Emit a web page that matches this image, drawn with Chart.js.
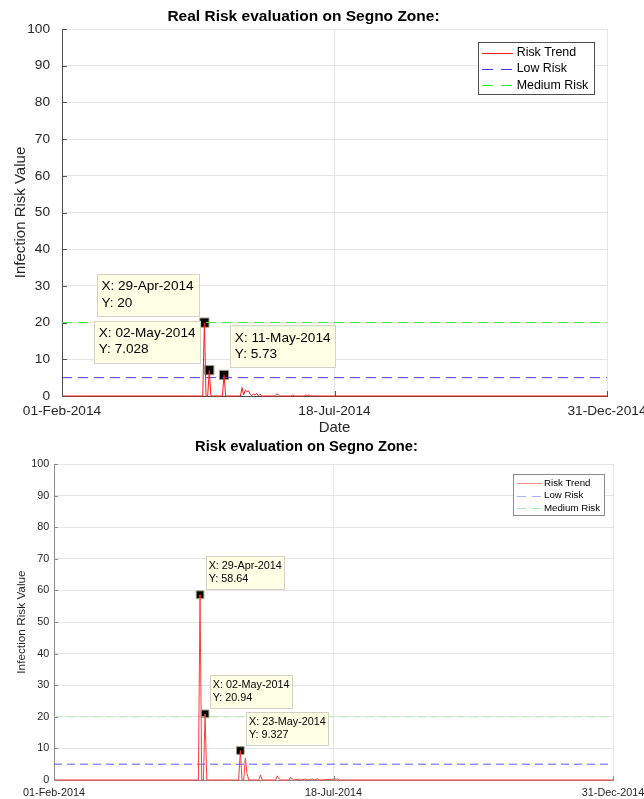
<!DOCTYPE html>
<html><head><meta charset="utf-8">
<script src="https://cdn.jsdelivr.net/npm/chart.js@4/dist/chart.umd.min.js"></script>
<style>
html,body{margin:0;padding:0;background:#fff;}
#wrap{position:relative;width:644px;height:799px;overflow:hidden;background:#fff;}
#c1{position:absolute;left:0;top:0;}
#c2{position:absolute;left:0;top:432px;}
</style></head><body>
<div id="wrap"><canvas id="c1" width="644" height="440"></canvas><canvas id="c2" width="644" height="367"></canvas></div>
<script>
// ---------- DATA ----------
const axisStart = '2014-02-01';
const axisEnd = '2014-12-31';
const xTickLabels = ['01-Feb-2014', '18-Jul-2014', '31-Dec-2014'];
const seriesNames = ['Risk Trend', 'Low Risk', 'Medium Risk'];
const lowRisk = 5;
const mediumRisk = 20;

// Top chart: "Real Risk evaluation on Segno Zone:"
const realTitle = 'Real Risk evaluation on Segno Zone:';
const realDates = ['2014-02-01','2014-04-28','2014-04-29','2014-04-30','2014-05-01','2014-05-02','2014-05-03',
  '2014-05-10','2014-05-11','2014-05-12','2014-05-21','2014-05-22','2014-05-23','2014-05-24','2014-05-25',
  '2014-05-26','2014-05-27','2014-05-28','2014-05-29','2014-05-30','2014-05-31','2014-06-01','2014-06-02',
  '2014-06-03','2014-06-11','2014-06-12','2014-06-13','2014-06-14','2014-06-21','2014-06-22','2014-06-23',
  '2014-06-29','2014-06-30','2014-07-01','2014-07-02','2014-07-03','2014-12-31'];
const realValues = [0,0,20,0,0,7.028,0,
  0,5.73,0,0,2.3,0.3,1.6,1.2,
  1.4,0.4,0.1,0.6,0.2,0.7,0,0.5,
  0,0,0.5,0.4,0,0,0.3,0,
  0,0.3,0.1,0.3,0,0];
const realTipDates = ['2014-04-29','2014-05-02','2014-05-11'];
const realTipValues = [20, 7.028, 5.73];

// Bottom chart: "Risk evaluation on Segno Zone:"
const estTitle = 'Risk evaluation on Segno Zone:';
const estDates = ['2014-02-01','2014-04-28','2014-04-29','2014-04-30','2014-05-01','2014-05-02','2014-05-03',
  '2014-05-22','2014-05-23','2014-05-24','2014-05-25','2014-05-26','2014-05-27','2014-05-28','2014-06-03',
  '2014-06-04','2014-06-05','2014-06-13','2014-06-14','2014-06-15','2014-06-16','2014-06-21','2014-06-22',
  '2014-06-23','2014-06-24','2014-06-27','2014-06-28','2014-07-01','2014-07-02','2014-07-05','2014-07-06',
  '2014-07-08','2014-07-09','2014-07-20','2014-07-21','2014-12-31'];
const estValues = [0,0,58.64,0,0,20.94,0,
  0,9.327,0,0,7.0,2.0,0,0,
  1.6,0,0,1.3,0.4,0,0,0.9,
  0.3,0,0.3,0,0.3,0,0.3,0,
  0.4,0,0.3,0,0];
const estTipDates = ['2014-04-29','2014-05-02','2014-05-23'];
const estTipValues = [58.64, 20.94, 9.327];

// ---------- HELPERS ----------
const FONT = '"Liberation Sans", Arial, Helvetica, sans-serif';
const MON = ['Jan','Feb','Mar','Apr','May','Jun','Jul','Aug','Sep','Oct','Nov','Dec'];
const T0 = (() => { const [y,m,d] = axisStart.split('-').map(Number); return Date.UTC(y,m-1,d); })();
function dayIndex(iso){ const [y,m,d] = iso.split('-').map(Number); return (Date.UTC(y,m-1,d) - T0) / 86400000; }
function fmtDate(iso){ const [y,m,d] = iso.split('-'); return d + '-' + MON[+m-1] + '-' + y; }

function makeDecor(S, D) {
  return {
    id: 'decor',
    afterDraw(chart) {
      const ctx = chart.ctx, xs = chart.scales.x, ys = chart.scales.y, a = chart.chartArea;
      ctx.save();
      // inward tick marks (MATLAB style)
      ctx.strokeStyle = S.tickColor; ctx.lineWidth = 1;
      ys.ticks.forEach(t => {
        const py = Math.round(ys.getPixelForValue(t.value)) + 0.5;
        ctx.beginPath(); ctx.moveTo(a.left, py); ctx.lineTo(a.left + S.tickLen, py); ctx.stroke();
      });
      xs.ticks.forEach(t => {
        const px = Math.round(xs.getPixelForValue(t.value)) + 0.5;
        ctx.beginPath(); ctx.moveTo(px, a.bottom); ctx.lineTo(px, a.bottom - S.tickLen); ctx.stroke();
      });
      // data tips
      const tipData = chart.data.datasets[3].data;
      ctx.font = S.tipFont + 'px ' + FONT;
      ctx.textBaseline = 'middle'; ctx.textAlign = 'left';
      tipData.forEach((p, i) => {
        const pl = S.tipPlace[i];
        const px = xs.getPixelForValue(p.x), py = ys.getPixelForValue(p.y);
        const lines = ['X: ' + fmtDate(D.tipDates[i]), 'Y: ' + String(p.y)];
        const w = Math.max(...lines.map(s => ctx.measureText(s).width)) + 2 * S.tipPadX;
        const h = 2 * S.tipGap + 2 * S.tipPadY;
        const bx = pl.side === 'left' ? px + pl.dx - w : px + pl.dx;
        const by = py + pl.dy - h;
        ctx.fillStyle = '#ffffe6';
        ctx.fillRect(bx, by, w, h);
        ctx.strokeStyle = '#d3d3c4';
        ctx.strokeRect(Math.round(bx) + 0.5, Math.round(by) + 0.5, Math.round(w), Math.round(h));
        ctx.fillStyle = '#000';
        lines.forEach((s, k) => ctx.fillText(s, bx + S.tipPadX, by + S.tipPadY + S.tipGap / 2 + k * S.tipGap));
      });
      // legend box
      const L = S.legend;
      ctx.font = L.font + 'px ' + FONT;
      const names = chart.data.datasets.slice(0, 3).map(d => d.label);
      const tw = Math.max(...names.map(s => ctx.measureText(s).width));
      const right = L.textX + tw + L.padR;
      ctx.fillStyle = '#fff';
      ctx.fillRect(L.left, L.top, right - L.left, L.bottom - L.top);
      ctx.strokeStyle = L.border; ctx.lineWidth = 1;
      ctx.strokeRect(Math.round(L.left) + 0.5, Math.round(L.top) + 0.5, Math.round(right - L.left), Math.round(L.bottom - L.top));
      names.forEach((s, k) => {
        const y = L.rowY + k * L.rowGap;
        ctx.strokeStyle = L.colors[k];
        ctx.lineWidth = 1;
        ctx.setLineDash(L.dashes[k]);
        ctx.beginPath(); ctx.moveTo(L.lineX0, Math.round(y) + 0.5); ctx.lineTo(L.lineX1, Math.round(y) + 0.5); ctx.stroke();
        ctx.setLineDash([]);
        ctx.fillStyle = '#000';
        ctx.textBaseline = 'middle';
        ctx.fillText(s, L.textX, y);
      });
      ctx.restore();
    }
  };
}

function buildChart(canvas, S, D) {
  const xMin = dayIndex(axisStart), xMax = dayIndex(axisEnd);
  const tickVals = [xMin, (xMin + xMax) / 2, xMax];
  return new Chart(canvas, {
    type: 'line',
    data: { datasets: [
      { label: seriesNames[0], data: D.dates.map((d, i) => ({ x: dayIndex(d), y: D.values[i] })),
        borderColor: S.red, borderWidth: 1, pointRadius: 0, tension: 0, clip: 6 },
      { label: seriesNames[1], data: [{ x: xMin, y: lowRisk }, { x: xMax, y: lowRisk }],
        borderColor: S.blue, borderDash: S.dash, borderWidth: 1, pointRadius: 0 },
      { label: seriesNames[2], data: [{ x: xMin, y: mediumRisk }, { x: xMax, y: mediumRisk }],
        borderColor: S.green, borderDash: S.dash, borderWidth: 1, pointRadius: 0 },
      { label: 'tips', data: D.tipDates.map((d, i) => ({ x: dayIndex(d), y: D.tipValues[i] })),
        showLine: false, pointStyle: 'rect', pointRadius: S.markR, pointHoverRadius: S.markR,
        backgroundColor: '#000', borderColor: '#a39b7c', borderWidth: 1, clip: 10 }
    ]},
    options: {
      responsive: false, animation: false, events: [],
      layout: { padding: { left: 0, right: S.padRight, top: 0, bottom: 0 } },
      plugins: {
        legend: { display: false }, tooltip: { enabled: false },
        title: { display: true, text: D.title, color: '#000',
          font: { family: FONT, size: S.titleSize, weight: 'bold' }, padding: S.titlePad }
      },
      scales: {
        x: {
          type: 'linear', min: xMin, max: xMax,
          afterBuildTicks: s => { s.ticks = tickVals.map(v => ({ value: v })); },
          afterFit: s => { s.height = S.xH; s.paddingLeft = 0; s.paddingRight = 0; },
          ticks: { callback: (v, i) => xTickLabels[i], autoSkip: false, maxRotation: 0, minRotation: 0,
            font: { family: FONT, size: S.tickSize }, color: '#262626', padding: S.xPad },
          grid: { color: '#e6e6e6', drawTicks: false },
          border: { color: S.axisColor },
          title: S.xTitle
        },
        y: {
          min: 0, max: 100,
          afterFit: s => { s.width = S.yW; s.paddingTop = 0; s.paddingBottom = 0; },
          ticks: { stepSize: 10, font: { family: FONT, size: S.tickSize }, color: '#262626', padding: S.yPad },
          grid: { color: '#e6e6e6', drawTicks: false },
          border: { color: S.axisColor },
          title: { display: true, text: 'Infection Risk Value', color: '#262626',
            font: { family: FONT, size: S.yTitleSize }, padding: { top: S.yTitlePad, bottom: 0 } }
        }
      }
    },
    plugins: [makeDecor(S, D)]
  });
}

// ---------- STYLES ----------
const topStyle = {
  red: '#ff1a1a', blue: '#3b3bf5', green: '#33ee33', dash: [10, 6], markR: 6.5,
  padRight: 37, titleSize: 15.5, titlePad: { top: 7.4, bottom: 3 },
  tickSize: 13.7, xPad: 7, yPad: 12, xH: 44, yW: 62, axisColor: '#4d4d4d',
  yTitleSize: 15, yTitlePad: 12,
  xTitle: { display: true, text: 'Date', color: '#262626', font: { family: FONT, size: 15 }, padding: { top: 0, bottom: 3 } },
  tickColor: '#555', tickLen: 5,
  tipFont: 13.6, tipGap: 16.3, tipPadX: 4.8, tipPadY: 4.5,
  tipPlace: [{ side: 'left', dx: -6, dy: -7 }, { side: 'left', dx: -9, dy: -8 }, { side: 'right', dx: 6, dy: -8 }],
  legend: { left: 478.3, top: 42, bottom: 94.3, textX: 516.7, padR: 6, lineX0: 482, lineX1: 513,
    rowY: 52.7, rowGap: 16.3, font: 12.4, border: '#4d4d4d',
    colors: ['#ff1a1a', '#3b3bf5', '#33ee33'], dashes: [[], [11, 8], [11, 8]] }
};
const botStyle = {
  red: '#ff3b3b', blue: '#5a5aff', green: '#b3ecb3', dash: [8, 5], markR: 5.4,
  padRight: 31, titleSize: 14.7, titlePad: { top: 5.9, bottom: 8.5 },
  tickSize: 10.8, xPad: 6.6, yPad: 4.7, xH: 19, yW: 54, axisColor: '#8c8c8c',
  yTitleSize: 11.8, yTitlePad: 15,
  xTitle: { display: false },
  tickColor: '#8c8c8c', tickLen: 4,
  tipFont: 10.8, tipGap: 13.3, tipPadX: 2.6, tipPadY: 3.05,
  tipPlace: [{ side: 'right', dx: 6, dy: -6 }, { side: 'right', dx: 5, dy: -6 }, { side: 'right', dx: 6, dy: -6 }],
  legend: { left: 513.3, top: 42, bottom: 82.7, textX: 544, padR: 4, lineX0: 517, lineX1: 542,
    rowY: 51, rowGap: 12.5, font: 9.7, border: '#8c8c8c',
    colors: ['#ff8a8a', '#aab0ff', '#aaf0aa'], dashes: [[], [9, 6], [9, 6]] }
};

buildChart(document.getElementById('c1'), topStyle,
  { title: realTitle, dates: realDates, values: realValues, tipDates: realTipDates, tipValues: realTipValues });
buildChart(document.getElementById('c2'), botStyle,
  { title: estTitle, dates: estDates, values: estValues, tipDates: estTipDates, tipValues: estTipValues });
</script>
</body></html>
